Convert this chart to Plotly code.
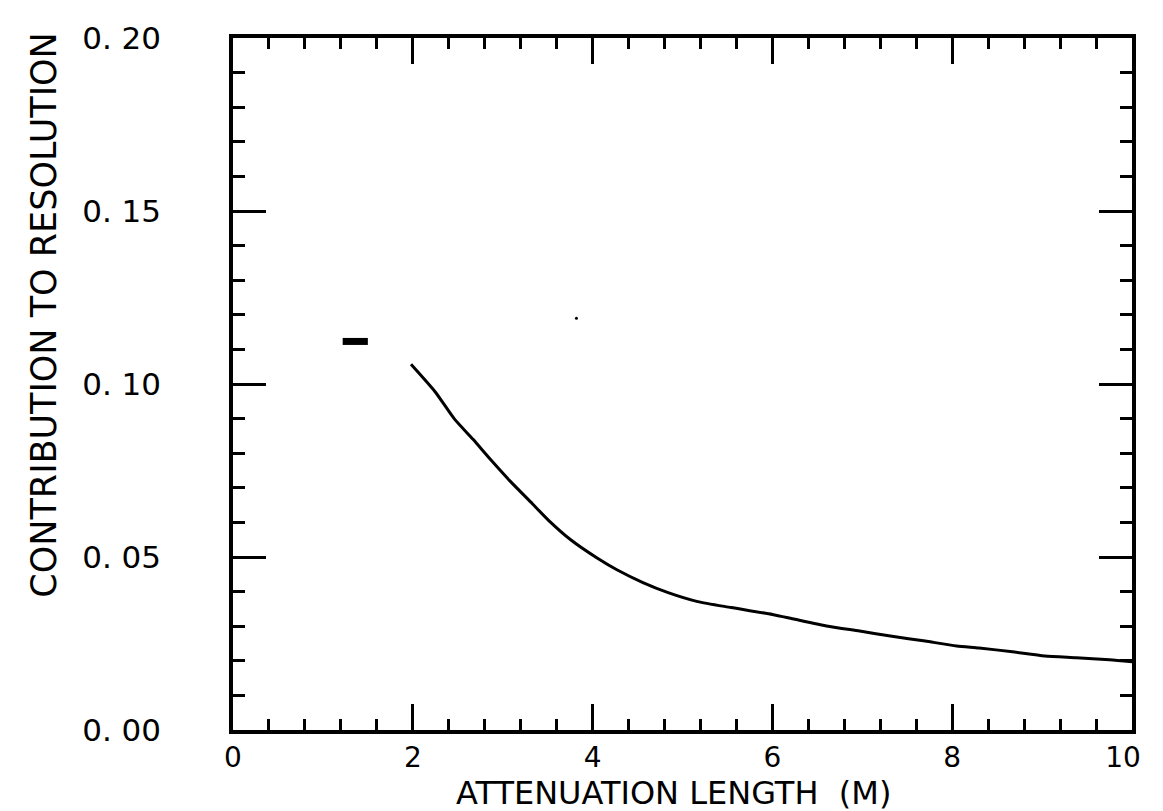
import plotly.graph_objects as go

# curve data
atten_length = [1.98, 2.25, 2.46, 2.67, 2.86, 3.08, 3.33, 3.51, 3.76, 4.05, 4.27, 4.56,
                4.84, 5.17, 5.54, 6.00, 6.25, 6.62, 6.97, 7.33, 7.70, 8.05, 8.30, 8.67,
                9.03, 9.38, 9.75, 10.0]
contribution = [0.1057, 0.0977, 0.0900, 0.0840, 0.0783, 0.0720, 0.0654, 0.0606, 0.0549,
                0.0497, 0.0463, 0.0426, 0.0397, 0.0371, 0.0354, 0.0334, 0.0320, 0.0300,
                0.0286, 0.0271, 0.0257, 0.0243, 0.0237, 0.0226, 0.0214, 0.0209, 0.0203,
                0.0197]

# ink blot near x ~ 1.3
blot_x = [1.22, 1.50]
blot_y = [0.1123, 0.1123]
# stray dot
dot_x = [3.82]
dot_y = [0.1190]

x_tickvals = [0, 2, 4, 6, 8, 10]
x_ticktext = ["0", "2", "4", "6", "8", "10\u00a0\u00a0"]
y_tickvals = [0.00, 0.05, 0.10, 0.15, 0.20]
y_ticktext = ["0. 00", "0. 05", "0. 10", "0. 15", "0. 20"]

FONT = "DejaVu Sans"

fig = go.Figure()
fig.add_trace(go.Scatter(x=atten_length, y=contribution, mode="lines",
                         line=dict(color="black", width=3, shape="spline", smoothing=0.6),
                         showlegend=False))
fig.add_trace(go.Scatter(x=blot_x, y=blot_y, mode="lines",
                         line=dict(color="black", width=7), showlegend=False))
fig.add_trace(go.Scatter(x=dot_x, y=dot_y, mode="markers",
                         marker=dict(color="black", size=3), showlegend=False))

fig.update_xaxes(range=[0, 10], tickvals=x_tickvals, ticktext=x_ticktext,
                 ticks="inside", ticklen=26, tickwidth=3, tickcolor="black",
                 minor=dict(dtick=0.4, ticks="inside", ticklen=11, tickwidth=3,
                            tickcolor="black", showgrid=False),
                 showline=True, linewidth=3.5, linecolor="black", mirror="ticks",
                 showgrid=False, zeroline=False,
                 tickfont=dict(family=FONT, size=28, color="black"),
                 ticklabelstandoff=0, ticklabeloverflow="allow")
fig.update_yaxes(range=[0, 0.20], tickvals=y_tickvals, ticktext=y_ticktext,
                 ticks="inside", ticklen=33, tickwidth=3, tickcolor="black",
                 minor=dict(dtick=0.01, ticks="inside", ticklen=12, tickwidth=3,
                            tickcolor="black", showgrid=False),
                 showline=True, linewidth=3.5, linecolor="black", mirror="ticks",
                 showgrid=False, zeroline=False,
                 tickfont=dict(family=FONT, size=31, color="black"),
                 ticklabelstandoff=62)

fig.add_annotation(text="ATTENUATION LENGTH  (M)", xref="paper", yref="paper",
                   x=0.49, y=-0.12, xanchor="center", yanchor="bottom", showarrow=False,
                   borderpad=0,
                   font=dict(family=FONT, size=32, color="black"))
fig.add_annotation(text="CONTRIBUTION TO RESOLUTION", xref="paper", yref="paper",
                   x=-0.21, y=0.599, xanchor="center", yanchor="middle", showarrow=False,
                   textangle=-90, font=dict(family=FONT, size=35, color="black"))

fig.update_layout(width=1163, height=811, margin=dict(l=225, r=13, t=22, b=89),
                  paper_bgcolor="white", plot_bgcolor="white")

fig.write_html("out.html")
